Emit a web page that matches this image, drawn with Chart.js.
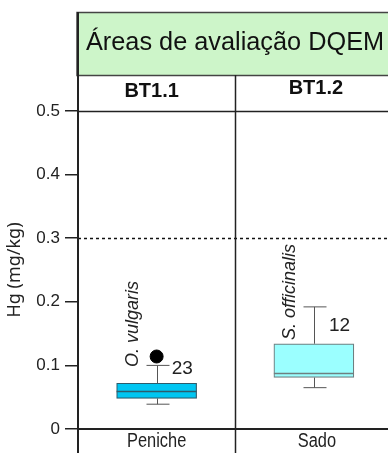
<!DOCTYPE html>
<html>
<head>
<meta charset="utf-8">
<script src="https://cdn.jsdelivr.net/npm/chart.js@4/dist/chart.umd.min.js"></script>
<style>
  html, body { margin: 0; padding: 0; background: #fff; overflow: hidden; }
  #frame { width: 388px; height: 453px; overflow: hidden; }
  #wide { width: 400px; height: 453px; }
</style>
</head>
<body>
<div id="frame"><div id="wide"><canvas id="c" width="400" height="453"></canvas></div></div>
<script>
// Mercury in tissue (mg/kg) per assessment area
const categories = ['Peniche', 'Sado'];
const areaCodes = ['BT1.1', 'BT1.2'];
const species = ['O. vulgaris', 'S. officinalis'];
const sampleSizes = [23, 12];
const whiskerLow = [0.039, 0.065];
const quartile1 = [0.048, 0.081];
const medians = [0.060, 0.088];
const quartile3 = [0.072, 0.134];
const whiskerHigh = [0.100, 0.192];
const outliers = [0.114, null];
const referenceLevel = 0.3;
const yTickLabels = ['0', '0.1', '0.2', '0.3', '0.4', '0.5'];
const headerTitle = 'Áreas de avaliação DQEM';

// label anchors (value on the y scale where each rotated name / count sits)
const speciesAnchor = [0.0975, 0.140];
const countAnchor = [0.094, 0.163];

const boxFill = ['#00c6f2', '#9bffff'];
const boxEdge = ['#2d5c6c', '#6f7f80'];
const ink = '#222';
const SANS = '"Liberation Sans", Arial, sans-serif';

const boxParts = {
  id: 'boxParts',
  beforeDatasetsDraw(chart) {
    const { ctx, chartArea: a, scales: { x, y } } = chart;
    // reference level
    ctx.save();
    ctx.strokeStyle = '#111';
    ctx.lineWidth = 1.5;
    ctx.setLineDash([3, 3]);
    ctx.beginPath();
    const yr = Math.round(y.getPixelForValue(referenceLevel)) + 0.5;
    ctx.moveTo(a.left, yr);
    ctx.lineTo(chart.width, yr);
    ctx.stroke();
    ctx.restore();
    // whiskers
    ctx.save();
    ctx.strokeStyle = '#555';
    ctx.lineWidth = 1;
    categories.forEach((c, i) => {
      const cx = Math.round(x.getPixelForValue(i)) + 0.5;
      const lo = y.getPixelForValue(whiskerLow[i]);
      const hi = y.getPixelForValue(whiskerHigh[i]);
      const q1 = y.getPixelForValue(quartile1[i]);
      const q3 = y.getPixelForValue(quartile3[i]);
      ctx.beginPath();
      ctx.moveTo(cx, q1); ctx.lineTo(cx, lo);
      ctx.moveTo(cx - 11, lo); ctx.lineTo(cx + 12, lo);
      ctx.moveTo(cx, q3); ctx.lineTo(cx, hi);
      ctx.moveTo(cx - 11, hi); ctx.lineTo(cx + 12, hi);
      ctx.stroke();
    });
    ctx.restore();
  },
  afterDatasetsDraw(chart) {
    const { ctx, scales: { x, y } } = chart;
    ctx.save();
    categories.forEach((c, i) => {
      const cx = x.getPixelForValue(i);
      const meta = chart.getDatasetMeta(0).data[i];
      const half = meta.width / 2;
      const ym = Math.round(y.getPixelForValue(medians[i])) + 0.5;
      ctx.strokeStyle = boxEdge[i];
      ctx.lineWidth = 1.5;
      ctx.beginPath();
      ctx.moveTo(cx - half, ym); ctx.lineTo(cx + half, ym);
      ctx.stroke();

      // species name, rotated
      ctx.save();
      ctx.translate(cx - 24, y.getPixelForValue(speciesAnchor[i]));
      ctx.rotate(-Math.PI / 2);
      ctx.fillStyle = ink;
      ctx.font = 'italic 18px ' + SANS;
      ctx.textAlign = 'left';
      ctx.textBaseline = 'middle';
      ctx.fillText(species[i], 0, 0);
      ctx.restore();

      // sample size
      ctx.fillStyle = ink;
      ctx.font = '19px ' + SANS;
      ctx.textAlign = 'left';
      ctx.textBaseline = 'middle';
      ctx.fillText(String(sampleSizes[i]), cx + 15, y.getPixelForValue(countAnchor[i]));
    });
    ctx.restore();
  },
  afterDraw(chart) {
    const { ctx, chartArea: a, scales: { x } } = chart;
    const W = chart.width, H = chart.height;
    const headTop = 12, headBottom = 75;
    ctx.save();
    // green banner
    ctx.fillStyle = '#cdf5c9';
    ctx.fillRect(a.left - 1, headTop, W, headBottom - headTop);
    ctx.strokeStyle = '#444';
    ctx.lineWidth = 1.5;
    ctx.strokeRect(a.left - 1, headTop + 0.5, W + 10, headBottom - headTop);
    ctx.fillStyle = '#111';
    ctx.font = '25.3px ' + SANS;
    ctx.textAlign = 'left';
    ctx.textBaseline = 'middle';
    ctx.fillText(headerTitle, a.left + 8, 43);

    // area codes row
    ctx.font = 'bold 20px ' + SANS;
    ctx.textAlign = 'center';
    areaCodes.forEach((t, i) => {
      ctx.fillText(t, x.getPixelForValue(i) + (i === 0 ? -5 : 2), i === 0 ? 91 : 88);
    });

    // category names under the axis, in a condensed face
    ctx.font = '20px ' + SANS;
    ctx.textBaseline = 'alphabetic';
    categories.forEach((t, i) => {
      ctx.save();
      ctx.translate(x.getPixelForValue(i) + (i === 0 ? 0 : 3), 447);
      ctx.scale(0.82, 1);
      ctx.fillStyle = ink;
      ctx.fillText(t, 0, 0);
      ctx.restore();
    });

    // row line at top of plot
    ctx.strokeStyle = ink;
    ctx.lineWidth = 1.5;
    ctx.beginPath();
    ctx.moveTo(a.left, Math.round(a.top) + 0.5);
    ctx.lineTo(W, Math.round(a.top) + 0.5);
    ctx.stroke();

    // left frame line, full height
    ctx.lineWidth = 2;
    ctx.beginPath();
    ctx.moveTo(a.left, headTop);
    ctx.lineTo(a.left, H);
    ctx.stroke();

    // category separators
    ctx.lineWidth = 1.5;
    const step = x.getPixelForValue(1) - x.getPixelForValue(0);
    for (let i = 0; i < categories.length - 1; i++) {
      const bx = Math.round(x.getPixelForValue(i) + step / 2) + 0.5;
      ctx.beginPath();
      ctx.moveTo(bx, headBottom);
      ctx.lineTo(bx, H);
      ctx.stroke();
    }
    ctx.restore();
  }
};

new Chart(document.getElementById('c'), {
  type: 'bar',
  data: {
    labels: categories,
    datasets: [
      {
        label: 'IQR',
        data: categories.map((c, i) => [quartile1[i], quartile3[i]]),
        backgroundColor: boxFill,
        borderColor: boxEdge,
        borderWidth: 1.2,
        borderSkipped: false,
        barThickness: 80,
        order: 2
      },
      {
        type: 'line',
        label: 'outliers',
        data: outliers,
        showLine: false,
        pointRadius: 6.5,
        pointBackgroundColor: '#000',
        pointBorderColor: '#000',
        order: 1
      }
    ]
  },
  options: {
    responsive: false,
    animation: false,
    devicePixelRatio: 1,
    layout: { padding: { top: 111, right: 4, left: 0, bottom: 0 } },
    plugins: { legend: { display: false }, tooltip: { enabled: false } },
    scales: {
      x: {
        type: 'category',
        offset: true,
        grid: { display: false, drawTicks: false },
        border: { display: true, color: ink, width: 2 },
        ticks: { display: false },
        afterFit(s) { s.height = 24; }
      },
      y: {
        min: 0,
        max: 0.5,
        ticks: {
          stepSize: 0.1,
          color: ink,
          font: { family: SANS, size: 17 },
          padding: 5,
          callback: (v, i) => yTickLabels[i]
        },
        grid: { drawOnChartArea: false, drawTicks: true, tickLength: 13, color: ink, lineWidth: 1.5 },
        border: { display: true, color: ink, width: 2 },
        title: {
          display: true,
          text: 'Hg (mg/kg)',
          color: ink,
          font: { family: '"Noto Sans", "Open Sans", sans-serif', size: 18 },
          padding: { top: 4, bottom: 0 }
        },
        afterFit(s) { s.width = 78; }
      }
    }
  },
  plugins: [boxParts]
});
</script>
</body>
</html>
